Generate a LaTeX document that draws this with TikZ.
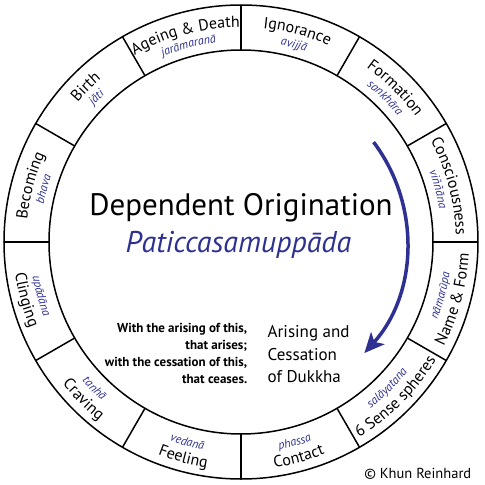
\documentclass[tikz,border=0pt]{standalone}
\usepackage{fontspec}
\setmainfont{PT Sans}
\usetikzlibrary{arrows.meta,decorations.text}
\definecolor{palblue}{RGB}{46,49,146}
\newcommand{\engfont}{\fontsize{16}{19}\selectfont}
\newcommand{\palfont}{\fontsize{12}{14}\selectfont\itshape}
\newcommand{\uplabel}[3]{%
  \path[decorate,decoration={text along path,text align=center,text={|\engfont|#2}}]
    ({#1+45}:215pt) arc[start angle={#1+45},end angle={#1-45},radius=215pt];
  \path[decorate,decoration={text along path,text align=center,text color=palblue,text={|\palfont|#3}}]
    ({#1+45}:201pt) arc[start angle={#1+45},end angle={#1-45},radius=201pt];}
\newcommand{\lowlabel}[3]{%
  \path[decorate,decoration={text along path,text align=center,text={|\engfont|#2}}]
    ({#1-45}:228pt) arc[start angle={#1-45},end angle={#1+45},radius=228pt];
  \path[decorate,decoration={text along path,text align=center,text color=palblue,text={|\palfont|#3}}]
    ({#1-45}:211pt) arc[start angle={#1-45},end angle={#1+45},radius=211pt];}
\begin{document}
\begin{tikzpicture}[line width=1.5pt]
    \useasboundingbox (-241pt,-243pt) rectangle (244pt,242pt);
    \draw (0,0) circle[radius=237pt];
    \draw (0,0) circle[radius=192pt];
    \foreach \a in {0,30,...,330}
        \draw (\a:192pt) -- (\a:237pt);

    \uplabel{105}{Ageing {\&} Death}{jarāmaranā}
    \uplabel{75}{Ignorance}{avijjā}
    \uplabel{45}{Formation}{sankhāra}
    \uplabel{15}{Consciousness}{viññāna}
    \uplabel{135}{Birth}{jāti}
    \uplabel{165}{Becoming}{bhava}
    \lowlabel{-15}{Name {\&} Form}{nāmarūpa}
    \lowlabel{-45}{6 Sense spheres}{salāyatana}
    \lowlabel{-75}{Contact}{phassa}
    \lowlabel{-105}{Feeling}{vedanā}
    \lowlabel{-135}{Craving}{tanhā}
    \lowlabel{-165}{Clinging}{upādāna}

    \draw[palblue,line width=3.5pt,-{Stealth[length=20pt,width=18pt,inset=5pt]}] (37:166pt) arc[start angle=37,end angle=-42,radius=166pt];

    \node[font=\fontsize{31}{36}\selectfont,anchor=base] (title) at (0pt,27pt) {Dependent Origination};
    \node[font=\fontsize{30}{36}\selectfont\itshape,text=palblue,anchor=base] (pali) at (-2.5pt,-10pt) {Paticcasamuppāda};
    \node[font=\fontsize{13}{17}\selectfont\bfseries,align=right,anchor=north east,inner sep=0pt] (rule) at (7pt,-81pt) {With the arising of this,\\that arises;\\with the cessation of this,\\that ceases.};
    \node[font=\fontsize{17}{22.5}\selectfont,align=left,anchor=north west,inner sep=0pt] (dukkha) at (26pt,-83pt) {Arising and\\Cessation\\of Dukkha};
    \node[font=\fontsize{14.5}{17}\selectfont,anchor=base east,inner sep=0pt] (credit) at (231pt,-236pt) {© Khun Reinhard};
\end{tikzpicture}
\end{document}
